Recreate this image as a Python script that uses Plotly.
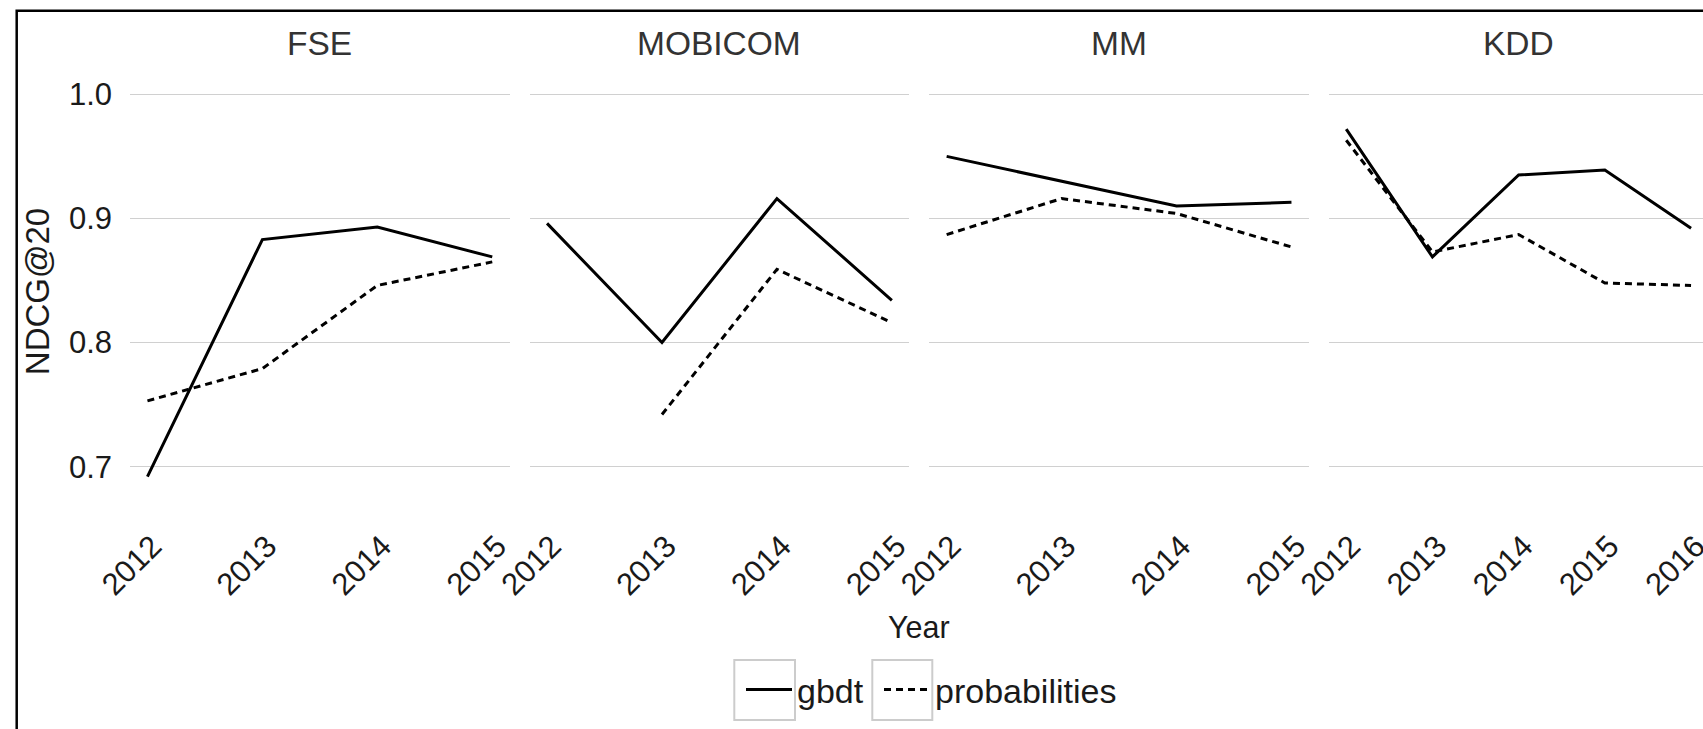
import plotly.graph_objects as go

W, H = 1703, 729

# ---------------- data ----------------
venues = ["FSE", "MOBICOM", "MM", "KDD"]
years_fse = [2012, 2013, 2014, 2015]
years_mobicom = [2012, 2013, 2014, 2015]
years_mm = [2012, 2013, 2014, 2015]
years_kdd = [2012, 2013, 2014, 2015, 2016]

gbdt_fse = [0.692, 0.883, 0.893, 0.869]
prob_fse = [0.753, 0.779, 0.846, 0.865]
gbdt_mobicom = [0.896, 0.800, 0.916, 0.834]
prob_mobicom = [None, 0.742, 0.859, 0.816]
gbdt_mm = [0.950, 0.930, 0.910, 0.913]
prob_mm = [0.887, 0.916, 0.904, 0.877]
gbdt_kdd = [0.972, 0.869, 0.935, 0.939, 0.892]
prob_kdd = [0.963, 0.873, 0.887, 0.848, 0.846]

y_ticks = [0.7, 0.8, 0.9, 1.0]
y_ticklabels = ["0.7", "0.8", "0.9", "1.0"]

years = [years_fse, years_mobicom, years_mm, years_kdd]
gbdt = [gbdt_fse, gbdt_mobicom, gbdt_mm, gbdt_kdd]
prob = [prob_fse, prob_mobicom, prob_mm, prob_kdd]

# ---------------- layout helpers ----------------
def px_x(p):
    return p / W

def px_y(p):
    return 1 - p / H

FONT = "Liberation Sans, Arial, Helvetica, sans-serif"
FS_TICK = 31
FS_STRIP = 33.5
FS_LEG = 34
panel_left = 130.2
panel_w = 379.3
panel_gap = 20.3
panel_top = 75.2
panel_bottom = 495.7
y_range = [0.6766, 1.0154]

fig = go.Figure()
layout = dict(
    width=W, height=H,
    margin=dict(l=0, r=0, t=0, b=0, autoexpand=False),
    paper_bgcolor="white", plot_bgcolor="white",
    font=dict(family=FONT, size=FS_TICK, color="#1a1a1a"),
    showlegend=True,
)

annotations = []
for i, v in enumerate(venues):
    n = "" if i == 0 else str(i + 1)
    x0 = panel_left + i * (panel_w + panel_gap)
    x1 = x0 + panel_w
    yrs = years[i]
    span = yrs[-1] - yrs[0]
    r0 = yrs[0] - 0.05 * span
    r1 = yrs[-1] + 0.05 * span
    if x1 > W:
        r1 = r1 - (x1 - W) / panel_w * (r1 - r0)
        x1 = W
    layout["xaxis" + n] = dict(
        domain=[px_x(x0), px_x(x1)], range=[r0, r1], anchor="y" + n,
        tickvals=yrs, ticktext=[str(y) for y in yrs], tickangle=-45,
        showgrid=False, zeroline=False, showline=False, automargin=False,
        ticks="outside", ticklen=19, tickcolor="rgba(0,0,0,0)",
        ticklabeloverflow="allow", ticklabelshift=5,
        tickfont=dict(family=FONT, size=FS_TICK, color="#1a1a1a"),
    )
    layout["yaxis" + n] = dict(
        domain=[px_y(panel_bottom), px_y(panel_top)], range=y_range, anchor="x" + n,
        tickvals=y_ticks, ticktext=y_ticklabels, showticklabels=(i == 0),
        showgrid=True, gridcolor="#d0d0d0", gridwidth=1.2, automargin=False,
        zeroline=False, showline=False,
        ticks="outside" if i == 0 else "", ticklen=11, tickcolor="rgba(0,0,0,0)",
        tickfont=dict(family=FONT, size=FS_TICK, color="#1a1a1a"),
    )
    fig.add_trace(go.Scatter(
        x=yrs, y=gbdt[i], mode="lines", name="gbdt", legendgroup="gbdt",
        showlegend=(i == 0), line=dict(color="black", width=3),
        xaxis="x" + n, yaxis="y" + n, connectgaps=False, legend="legend",
    ))
    fig.add_trace(go.Scatter(
        x=yrs, y=prob[i], mode="lines", name="probabilities", legendgroup="prob",
        showlegend=(i == 0), line=dict(color="black", width=3, dash="7px,5px"),
        xaxis="x" + n, yaxis="y" + n, connectgaps=False, legend="legend2",
    ))
    annotations.append(dict(
        text=v, x=px_x((x0 + x0 + panel_w) / 2), y=px_y(44), xref="paper", yref="paper",
        showarrow=False, xanchor="center", yanchor="middle",
        font=dict(family=FONT, size=FS_STRIP, color="#333333"),
    ))

# axis titles
annotations.append(dict(
    text="Year", x=px_x(919.3), y=px_y(627), xref="paper", yref="paper",
    showarrow=False, xanchor="center", yanchor="middle",
    font=dict(family=FONT, size=30.5, color="#1a1a1a"),
))
annotations.append(dict(
    text="NDCG@20", x=px_x(37.5), y=px_y(291.7), xref="paper", yref="paper",
    showarrow=False, xanchor="center", yanchor="middle", textangle=-90,
    font=dict(family=FONT, size=33, color="#1a1a1a"),
))

layout["annotations"] = annotations
leg_common = dict(
    orientation="h", xanchor="left", y=px_y(690), yanchor="middle",
    font=dict(family=FONT, size=FS_LEG, color="#1a1a1a"), itemwidth=46,
    bgcolor="rgba(0,0,0,0)", borderwidth=0,
)
layout["legend"] = dict(x=px_x(746 - 5), **leg_common)
layout["legend2"] = dict(x=px_x(884 - 5), **leg_common)

shapes = [
    # outer frame (partially cropped on the right and bottom)
    dict(type="rect", xref="paper", yref="paper",
         x0=px_x(16.7), x1=px_x(W + 20), y0=px_y(H + 20), y1=px_y(10.7),
         line=dict(color="black", width=2.5), fillcolor="rgba(0,0,0,0)", layer="above"),
    # legend key boxes
    dict(type="rect", xref="paper", yref="paper",
         x0=px_x(734.3), x1=px_x(795), y0=px_y(720), y1=px_y(660),
         line=dict(color="#cccccc", width=2), fillcolor="rgba(0,0,0,0)"),
    dict(type="rect", xref="paper", yref="paper",
         x0=px_x(872.3), x1=px_x(932.3), y0=px_y(720), y1=px_y(660),
         line=dict(color="#cccccc", width=2), fillcolor="rgba(0,0,0,0)"),
]
layout["shapes"] = shapes

fig.update_layout(**layout)
fig.write_html(
    "out.html",
    config={"displayModeBar": False},
    post_script="document.body.style.margin='0';document.body.style.overflow='hidden';",
)
